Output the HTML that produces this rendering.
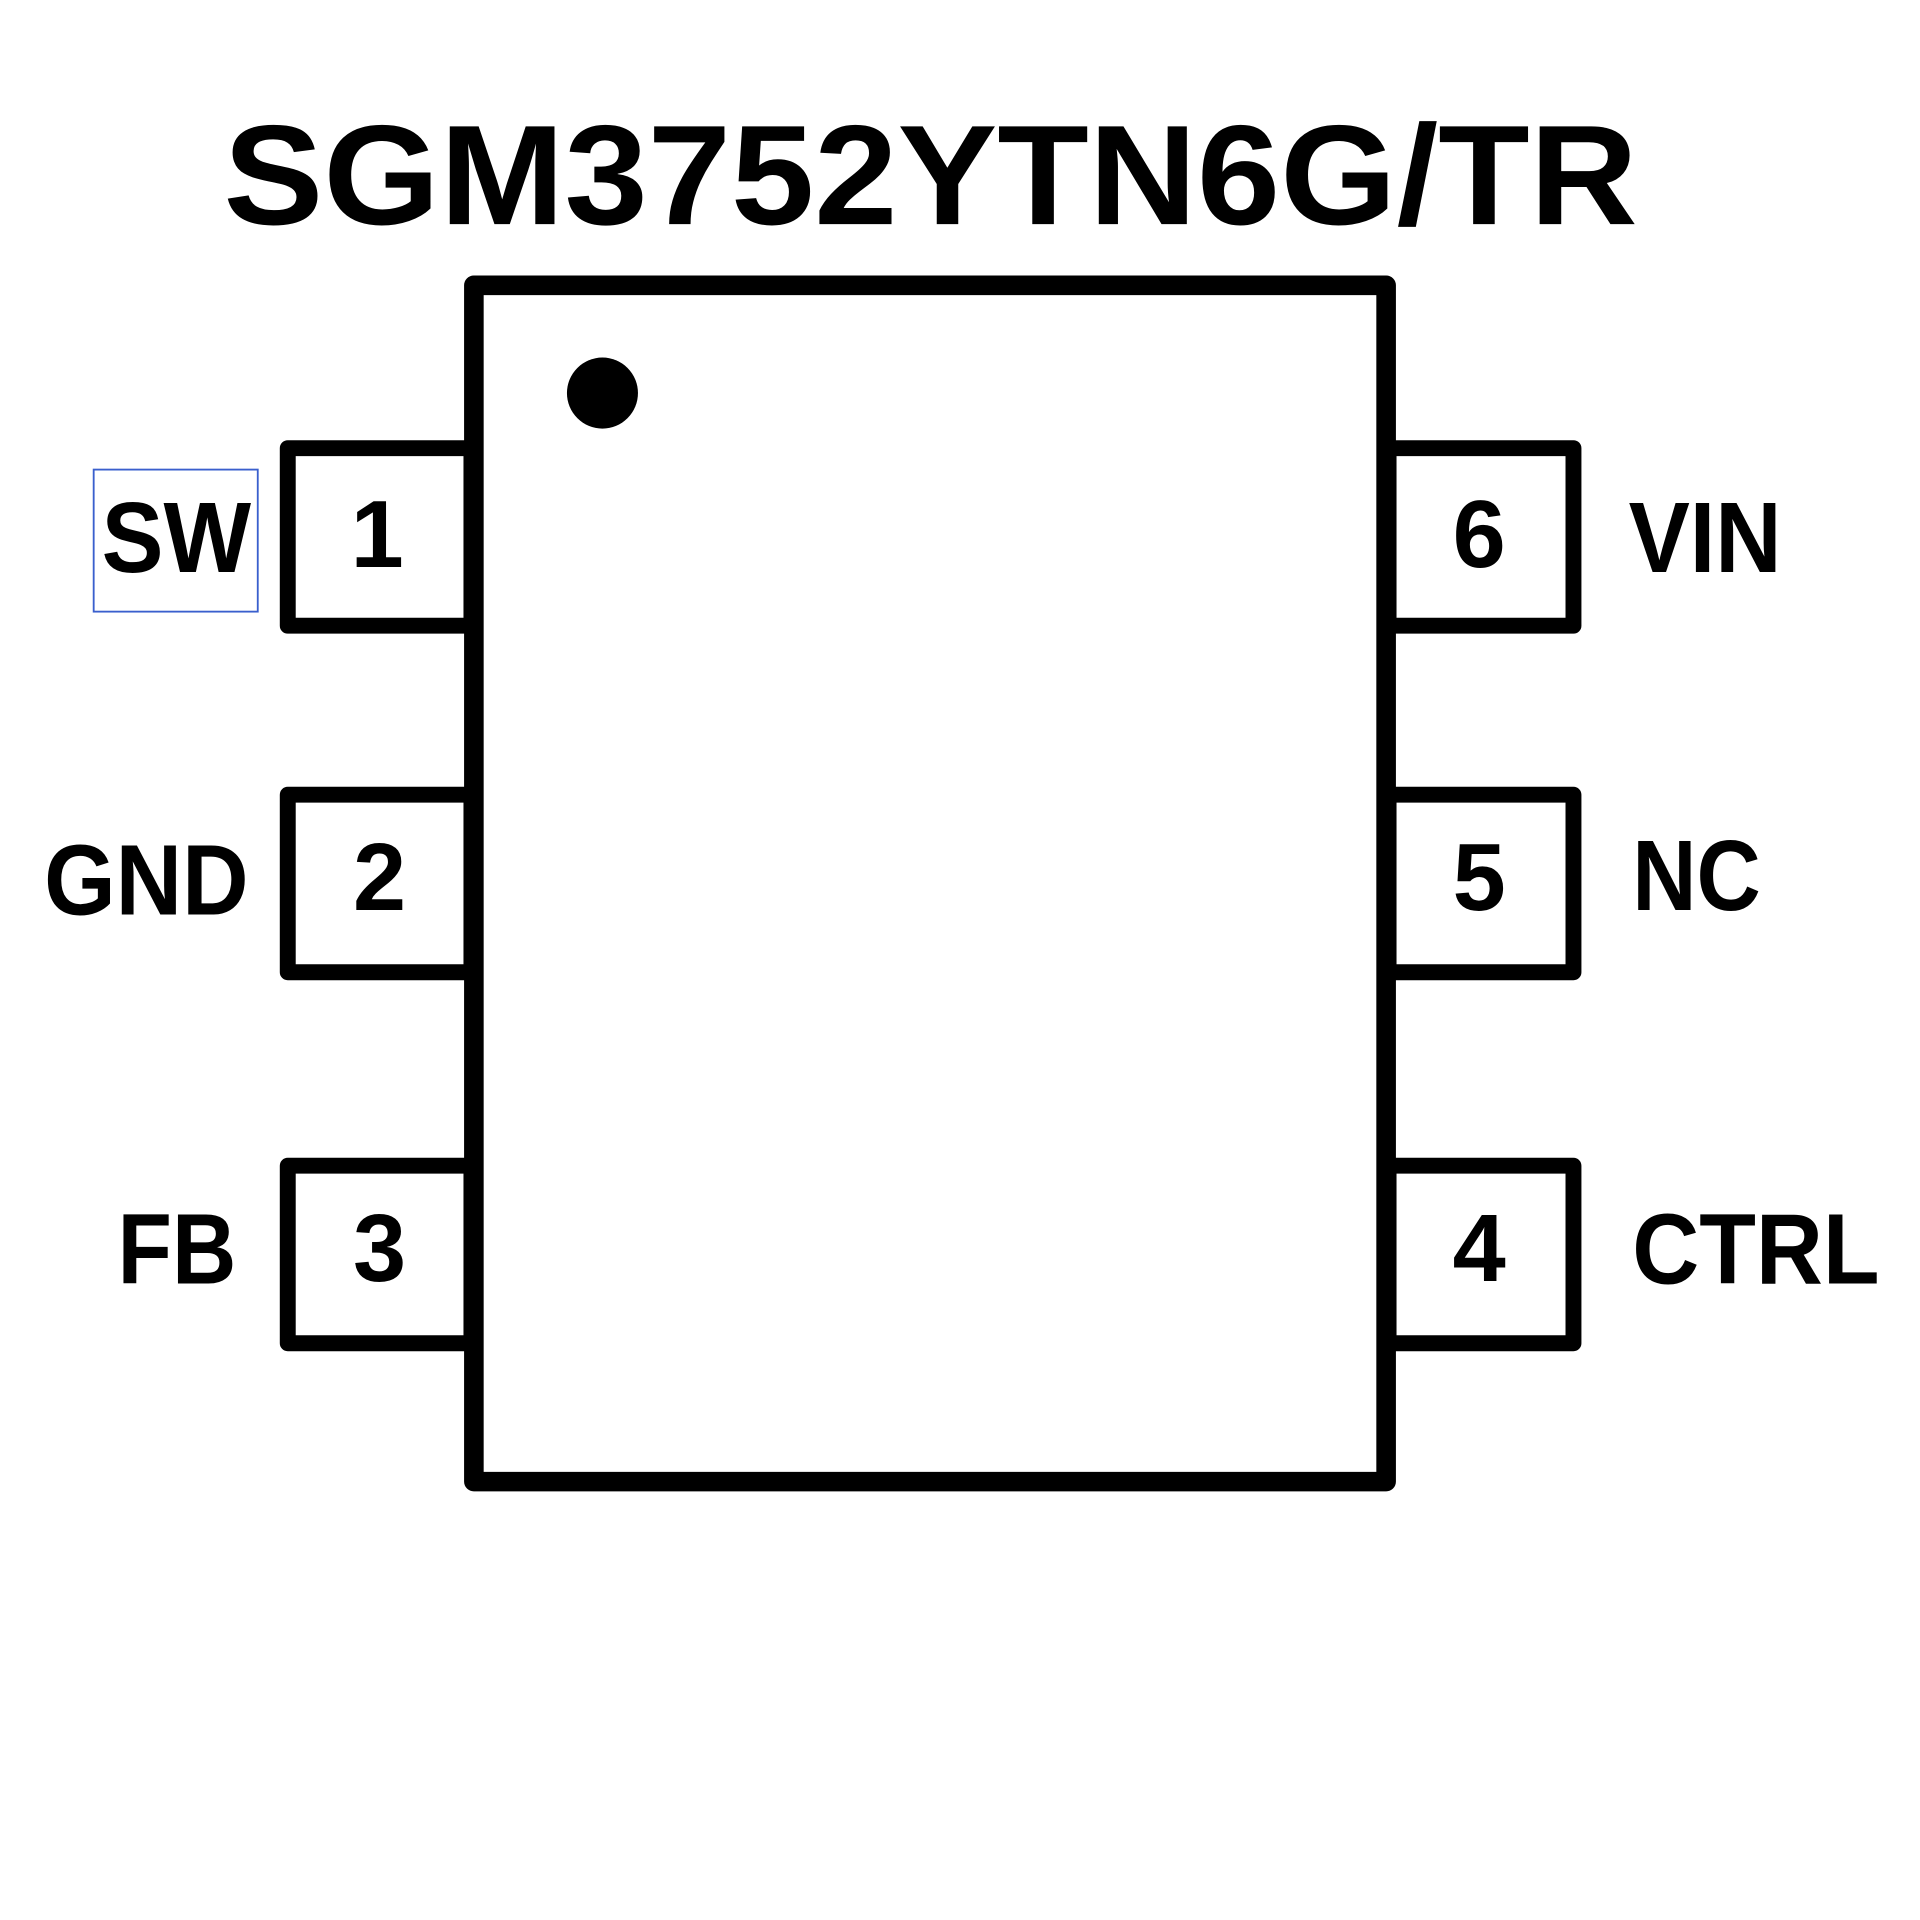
<!DOCTYPE html>
<html><head><meta charset="utf-8"><style>html,body{margin:0;padding:0;background:#fff}svg{display:block}</style></head>
<body>
<svg width="1920" height="1920" viewBox="0 0 1568 1568" xmlns="http://www.w3.org/2000/svg">
<rect width="1568" height="1568" fill="#fff"/>
<text x="760" y="183" text-anchor="middle" font-family="'Liberation Sans',sans-serif" font-weight="bold" font-size="116" textLength="1155" lengthAdjust="spacingAndGlyphs">SGM3752YTN6G/TR</text>
<g fill="none" stroke="#000" stroke-width="13" stroke-linejoin="round">
<rect x="235" y="366" width="150" height="145"/>
<rect x="235" y="649" width="150" height="145"/>
<rect x="235" y="952" width="150" height="145"/>
<rect x="1134" y="366" width="151" height="145"/>
<rect x="1134" y="649" width="151" height="145"/>
<rect x="1134" y="952" width="151" height="145"/>
</g>
<rect x="387" y="233" width="745" height="977" fill="#fff" stroke="#000" stroke-width="16" stroke-linejoin="round"/>
<circle cx="492" cy="321" r="29" fill="#000"/>
<rect x="76.5" y="383.5" width="134" height="116" fill="none" stroke="#3a5fcd" stroke-width="1.5"/>
<g font-family="'Liberation Sans',sans-serif" font-weight="bold" font-size="78" text-anchor="middle">
<text x="308" y="463">1</text>
<text x="310" y="743">2</text>
<text x="310" y="1046">3</text>
<text x="1208" y="463">6</text>
<text x="1208" y="743">5</text>
<text x="1208" y="1046">4</text>
</g>
<g font-family="'Liberation Sans',sans-serif" font-weight="bold" font-size="82">
<text x="83" y="467" textLength="122" lengthAdjust="spacingAndGlyphs">SW</text>
<text x="36" y="747" textLength="167" lengthAdjust="spacingAndGlyphs">GND</text>
<text x="96" y="1048" textLength="97" lengthAdjust="spacingAndGlyphs">FB</text>
<text x="1330" y="467" textLength="125" lengthAdjust="spacingAndGlyphs">VIN</text>
<text x="1333" y="743" textLength="105" lengthAdjust="spacingAndGlyphs">NC</text>
<text x="1333" y="1048" textLength="202" lengthAdjust="spacingAndGlyphs">CTRL</text>
</g>
</svg>
</body></html>
